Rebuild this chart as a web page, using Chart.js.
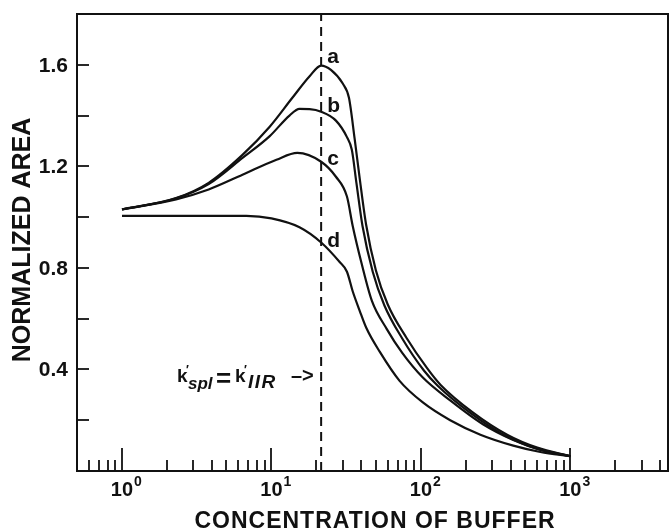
<!DOCTYPE html>
<html>
<head>
<meta charset="utf-8">
<script src="https://cdn.jsdelivr.net/npm/chart.js@4.4.1/dist/chart.umd.min.js"></script>
<style>
  html, body { margin: 0; padding: 0; background: #fff; overflow: hidden; }
</style>
</head>
<body>
<canvas id="chart" width="670" height="532"></canvas>
<script>
// concentration of buffer (x) and normalized area (y)
const aConc = [1, 2.3, 3.8, 6.4, 9.7, 13.8, 18, 21.5, 25, 30, 33, 36, 39, 43, 50, 60, 80, 110, 135, 220, 380, 600, 1000];
const aArea = [1.03, 1.075, 1.135, 1.245, 1.355, 1.47, 1.555, 1.597, 1.58, 1.526, 1.47, 1.31, 1.15, 0.97, 0.79, 0.656, 0.525, 0.405, 0.34, 0.233, 0.142, 0.092, 0.058];

const bConc = [1, 2.3, 3.8, 6.4, 9.7, 13.2, 15.4, 18, 21.5, 27, 32, 34.5, 37, 40.7, 47.6, 57, 75, 105, 130, 215, 370, 600, 1000];
const bArea = [1.03, 1.074, 1.13, 1.233, 1.318, 1.40, 1.426, 1.425, 1.415, 1.38, 1.315, 1.265, 1.136, 0.964, 0.785, 0.652, 0.522, 0.395, 0.335, 0.228, 0.138, 0.088, 0.058];

const cConc = [1, 2.3, 3.8, 6.4, 10.8, 14.9, 21.5, 27, 32, 35, 40, 47, 59, 75, 103, 157, 260, 415, 630, 1000];
const cArea = [1.03, 1.07, 1.109, 1.167, 1.226, 1.253, 1.218, 1.159, 1.081, 0.964, 0.82, 0.67, 0.56, 0.465, 0.368, 0.278, 0.184, 0.122, 0.083, 0.058];

const dConc = [1, 3, 6.8, 10, 15.4, 21.5, 28.5, 32, 35, 39, 43, 53, 72, 103, 157, 250, 415, 630, 1000];
const dArea = [1.005, 1.005, 1.005, 0.995, 0.96, 0.9, 0.824, 0.785, 0.707, 0.63, 0.565, 0.47, 0.355, 0.27, 0.2, 0.143, 0.1, 0.075, 0.058];

// k'spl = k'IIR marker
const markerConc = [21.5, 21.5];
const markerArea = [0, 1.8];

const curveNames = ['a', 'b', 'c', 'd'];
const decadeTicks = [1, 10, 100, 1000];
const decadeExp = ['0', '1', '2', '3'];
const yLabelTicks = [0.4, 0.8, 1.2, 1.6];

const INK = '#111';
const FONT = '"Liberation Sans", Arial, Helvetica, sans-serif';

function toPoints(xs, ys) {
    return xs.map((x, i) => ({ x, y: ys[i] }));
}

function curve(xs, ys) {
    return {
        data: toPoints(xs, ys),
        borderColor: INK,
        borderWidth: 2.2,
        pointRadius: 0,
        fill: false,
        cubicInterpolationMode: 'monotone'
    };
}

// minor ticks of the log axis: 2..9 of every decade inside the range
function logMinorTicks(min, max) {
    const out = [];
    for (let e = -1; e <= 4; e++) {
        for (let m = 2; m <= 9; m++) {
            const v = m * Math.pow(10, e);
            if (v >= min && v <= max) out.push(v);
        }
    }
    return out;
}

const framePlugin = {
    id: 'frame',
    afterDatasetsDraw(chart) {
        const { ctx, chartArea: ca, scales } = chart;
        const xs = scales.x, ys = scales.y;
        ctx.save();
        ctx.strokeStyle = INK;
        ctx.fillStyle = INK;
        ctx.lineWidth = 2;

        // box
        ctx.beginPath();
        ctx.moveTo(ca.left, ca.top);
        ctx.lineTo(ca.right, ca.top);
        ctx.lineTo(ca.right, ca.bottom);
        ctx.lineTo(ca.left, ca.bottom);
        ctx.closePath();
        ctx.stroke();

        // x ticks, inward
        ctx.lineWidth = 1.8;
        logMinorTicks(xs.min, xs.max).forEach(v => {
            const px = Math.round(xs.getPixelForValue(v));
            ctx.beginPath();
            ctx.moveTo(px, ca.bottom);
            ctx.lineTo(px, ca.bottom - 11);
            ctx.stroke();
        });
        decadeTicks.forEach(v => {
            const px = Math.round(xs.getPixelForValue(v));
            ctx.beginPath();
            ctx.moveTo(px, ca.bottom);
            ctx.lineTo(px, ca.bottom - 23);
            ctx.stroke();
        });

        // y ticks, inward, labels every 0.4
        ctx.font = 'bold 21px ' + FONT;
        ctx.textAlign = 'right';
        ctx.textBaseline = 'middle';
        for (let v = 0.2; v < ys.max - 0.01; v += 0.2) {
            const py = Math.round(ys.getPixelForValue(v));
            ctx.beginPath();
            ctx.moveTo(ca.left, py);
            ctx.lineTo(ca.left + 12, py);
            ctx.stroke();
            if (yLabelTicks.some(t => Math.abs(t - v) < 1e-6)) {
                ctx.fillText(v.toFixed(1), ca.left - 9, py + 1);
            }
        }

        // x tick labels 10^n
        ctx.textBaseline = 'alphabetic';
        decadeTicks.forEach((v, i) => {
            const px = xs.getPixelForValue(v);
            ctx.font = 'bold 20px ' + FONT;
            ctx.textAlign = 'center';
            ctx.fillText('10', px, ca.bottom + 25);
            const w = ctx.measureText('10').width;
            ctx.font = 'bold 14px ' + FONT;
            ctx.textAlign = 'left';
            ctx.fillText(decadeExp[i], px + w / 2 + 1, ca.bottom + 15);
        });

        // curve letters just right of the marker line
        const mx = xs.getPixelForValue(markerConc[0]);
        const letterY = [63, 112, 165, 247];
        ctx.font = 'bold 21px ' + FONT;
        ctx.textAlign = 'left';
        curveNames.forEach((n, i) => ctx.fillText(n, mx + 6, letterY[i]));

        // k'spl = k'IIR ->
        ctx.font = 'bold 19px ' + FONT;
        ctx.fillText('k', 177, 382);
        ctx.fillText('k', 235, 382);
        ctx.font = 'bold 12px ' + FONT;
        ctx.fillText('\u2032', 186, 374);
        ctx.fillText('\u2032', 244, 374);
        ctx.font = 'italic bold 17px ' + FONT;
        ctx.fillText('spl', 188, 389);
        ctx.letterSpacing = '1.5px';
        ctx.font = 'italic bold 19px ' + FONT;
        ctx.fillText('IIR', 248, 388);
        ctx.letterSpacing = '0px';
        ctx.font = 'bold 26px ' + FONT;
        ctx.fillText('=', 216, 387);
        ctx.font = 'bold 20px ' + FONT;
        ctx.fillText('\u2013>', 291, 382);

        // axis titles
        ctx.font = 'bold 23px ' + FONT;
        ctx.letterSpacing = '1px';
        ctx.textAlign = 'center';
        ctx.fillText('CONCENTRATION OF BUFFER', 375, 528);
        ctx.letterSpacing = '0px';

        ctx.save();
        ctx.translate(23, 240);
        ctx.rotate(-Math.PI / 2);
        ctx.font = 'bold 25px ' + FONT;
        ctx.textAlign = 'center';
        ctx.textBaseline = 'middle';
        ctx.fillText('NORMALIZED AREA', 0, 0);
        ctx.restore();

        ctx.restore();
    }
};

new Chart(document.getElementById('chart'), {
    type: 'line',
    data: {
        datasets: [
            curve(aConc, aArea),
            curve(bConc, bArea),
            curve(cConc, cArea),
            curve(dConc, dArea),
            {
                data: toPoints(markerConc, markerArea),
                borderColor: INK,
                borderWidth: 2,
                borderDash: [9, 6],
                pointRadius: 0,
                fill: false
            }
        ]
    },
    options: {
        responsive: false,
        devicePixelRatio: 1,
        animation: false,
        layout: { padding: { top: 14, right: 2, left: 0, bottom: 0 } },
        plugins: { legend: { display: false }, tooltip: { enabled: false } },
        scales: {
            x: {
                type: 'logarithmic',
                min: 0.5,
                max: 4500,
                grid: { display: false },
                border: { display: false },
                ticks: { display: false },
                afterFit: s => { s.height = 61; }
            },
            y: {
                type: 'linear',
                min: 0,
                max: 1.8,
                grid: { display: false },
                border: { display: false },
                ticks: { display: false, stepSize: 0.2 },
                afterFit: s => { s.width = 77; }
            }
        }
    },
    plugins: [framePlugin]
});
</script>
</body>
</html>
